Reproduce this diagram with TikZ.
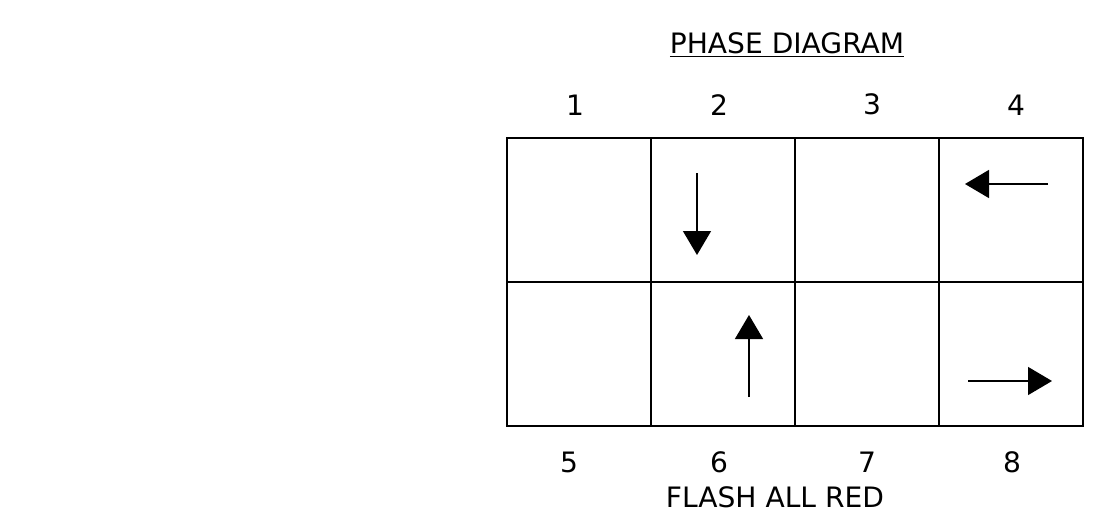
\documentclass[tikz,border=0pt]{standalone}
\usepackage{fontspec}
\setmainfont{DejaVu Sans}
\usepackage{tikz}
\usetikzlibrary{arrows.meta,positioning}

\begin{document}
\begin{tikzpicture}[x=0.02cm, y=-0.02cm,
    % Node styles
    cell/.style={draw, line width=1.1pt, minimum width=2.88cm, minimum height=2.88cm, inner sep=0pt},
    num/.style={font=\fontsize{16}{18}\selectfont, inner sep=0pt},
    title/.style={font=\fontsize{16}{18}\selectfont, inner sep=0pt},
    move/.style={-{Triangle[length=0.48cm, width=0.56cm]}, line width=0.85pt}
]
\useasboundingbox (0,0) rectangle (1106,531);

% Title
\node[title] (title) at (787,45) {\underline{PHASE DIAGRAM}};

% Grid cells (top row 1-4, bottom row 5-8)
\node[cell] (c1) at (579,210) {};
\node[cell] (c2) at (723,210) {};
\node[cell] (c3) at (867,210) {};
\node[cell] (c4) at (1011,210) {};
\node[cell] (c5) at (579,354) {};
\node[cell] (c6) at (723,354) {};
\node[cell] (c7) at (867,354) {};
\node[cell] (c8) at (1011,354) {};

% Phase numbers
\node[num] (n1) at (575,105) {1};
\node[num] (n2) at (719,105) {2};
\node[num] (n3) at (872,104) {3};
\node[num] (n4) at (1016,105) {4};
\node[num] (n5) at (569,462) {5};
\node[num] (n6) at (719,462) {6};
\node[num] (n7) at (867,462) {7};
\node[num] (n8) at (1012,462) {8};

% Caption
\node[title] (flash) at (775,497) {FLASH ALL RED};

% Movement arrows
\coordinate (a2s) at (697,173);
\coordinate (a2e) at (697,255);
\coordinate (a4s) at (1048,184);
\coordinate (a4e) at (965,184);
\coordinate (a6s) at (749,397);
\coordinate (a6e) at (749,315);
\coordinate (a8s) at (968,381);
\coordinate (a8e) at (1052,381);
\draw[move] (a2s) -- (a2e);
\draw[move] (a4s) -- (a4e);
\draw[move] (a6s) -- (a6e);
\draw[move] (a8s) -- (a8e);

\end{tikzpicture}
\end{document}
